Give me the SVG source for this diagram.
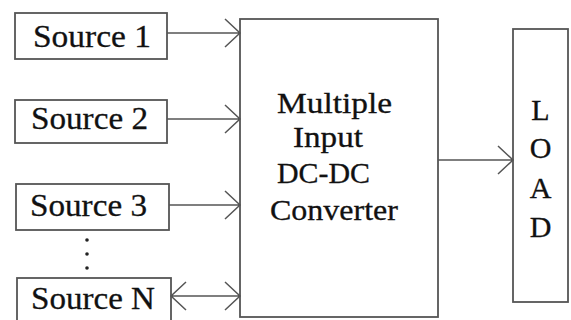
<svg xmlns="http://www.w3.org/2000/svg" width="571" height="320" viewBox="0 0 571 320">
<style>
.box{fill:#fff;stroke:#555;stroke-width:1.8}
.ln{fill:none;stroke:#555;stroke-width:1.5}
.t{font-family:"Liberation Serif","Times New Roman",serif;fill:#111;stroke:#111;stroke-width:0.3;font-size:32px}
.m{font-size:30px}
.c{text-anchor:middle}
</style>
<rect width="571" height="320" fill="#fff"/>
<g id="source1"><rect class="box" x="15" y="13" width="152" height="46"/><text class="t" x="33" y="47" textLength="118" lengthAdjust="spacingAndGlyphs">Source 1</text></g>
<g id="source2"><rect class="box" x="15" y="100" width="152" height="43"/><text class="t" x="31" y="129" textLength="117" lengthAdjust="spacingAndGlyphs">Source 2</text></g>
<g id="source3"><rect class="box" x="16" y="184" width="153" height="46"/><text class="t" x="30" y="216" textLength="117" lengthAdjust="spacingAndGlyphs">Source 3</text></g>
<g id="sourceN"><rect class="box" x="17" y="278" width="154" height="60"/><text class="t" x="31" y="309" textLength="124" lengthAdjust="spacingAndGlyphs">Source N</text></g>
<g id="dots" fill="#222"><circle cx="87" cy="240" r="1.8"/><circle cx="87" cy="254" r="1.8"/><circle cx="87" cy="268" r="1.8"/></g>
<g id="converter"><rect class="box" x="240" y="19" width="198" height="298"/>
<text class="t m" x="277" y="113" textLength="115" lengthAdjust="spacingAndGlyphs">Multiple</text>
<text class="t m" x="293" y="147" textLength="70" lengthAdjust="spacingAndGlyphs">Input</text>
<text class="t m" x="277" y="183" textLength="93" lengthAdjust="spacingAndGlyphs">DC-DC</text>
<text class="t m" x="270" y="220" textLength="128" lengthAdjust="spacingAndGlyphs">Converter</text></g>
<g id="load"><rect class="box" x="513" y="29" width="55" height="273"/>
<text class="t m c" x="540.5" y="120">L</text>
<text class="t m c" x="540.5" y="158">O</text>
<text class="t m c" x="540.5" y="198">A</text>
<text class="t m c" x="540.5" y="237">D</text></g>
<g id="connectors" class="ln">
<path d="M167 33H240M225 19L240 33L225 47"/>
<path d="M167 119H240M225 105L240 119L225 133"/>
<path d="M169 205H240M225 191L240 205L225 219"/>
<path d="M171 296H240M225 282L240 296L225 310M186 282L171 296L186 310"/>
<path d="M438 160H513M498 146L513 160L498 174"/>
</g>
</svg>
